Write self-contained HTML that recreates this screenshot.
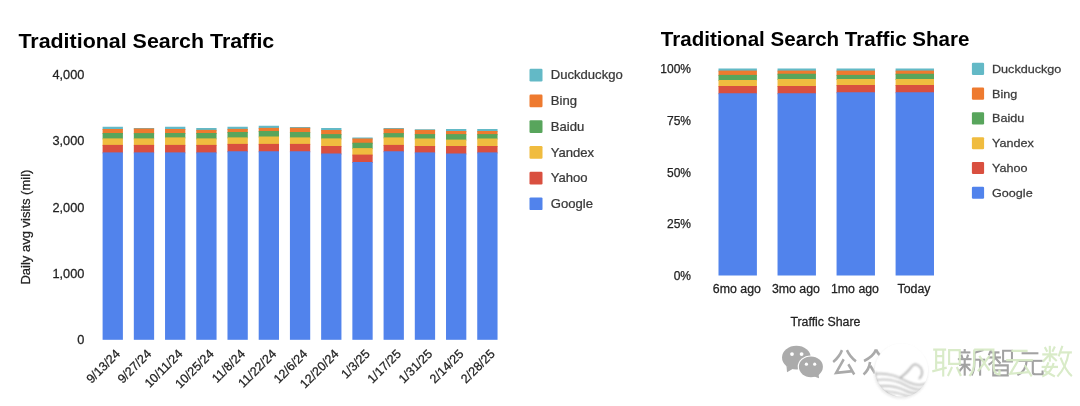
<!DOCTYPE html>
<html><head><meta charset="utf-8"><title>Traditional Search Traffic</title>
<style>
html,body{margin:0;padding:0;background:#fff;}
body{width:1080px;height:406px;overflow:hidden;font-family:"Liberation Sans",sans-serif;}
svg{display:block;will-change:transform;}
text{font-family:"Liberation Sans",sans-serif;}
.ax{fill:#222;stroke:#222;stroke-width:0.25px;}
.lg{fill:#3a3a3a;stroke:#3a3a3a;stroke-width:0.25px;}
.title{font-weight:bold;fill:#000;}
</style></head><body>
<svg width="1080" height="406" viewBox="0 0 1080 406">
<rect width="1080" height="406" fill="#fff"/>
<rect x="102.60" y="126.75" width="20.3" height="3.25" fill="#63b9c6"/>
<rect x="102.60" y="129.00" width="20.3" height="5.00" fill="#ee7a2f"/>
<rect x="102.60" y="133.00" width="20.3" height="6.40" fill="#58a55c"/>
<rect x="102.60" y="138.40" width="20.3" height="7.50" fill="#f0bc3f"/>
<rect x="102.60" y="144.90" width="20.3" height="8.50" fill="#d94f3f"/>
<rect x="102.60" y="152.40" width="20.3" height="187.40" fill="#5183ec"/>
<rect x="133.82" y="128.00" width="20.3" height="1.50" fill="#63b9c6"/>
<rect x="133.82" y="128.50" width="20.3" height="5.60" fill="#ee7a2f"/>
<rect x="133.82" y="133.10" width="20.3" height="6.30" fill="#58a55c"/>
<rect x="133.82" y="138.40" width="20.3" height="7.50" fill="#f0bc3f"/>
<rect x="133.82" y="144.90" width="20.3" height="8.50" fill="#d94f3f"/>
<rect x="133.82" y="152.40" width="20.3" height="187.40" fill="#5183ec"/>
<rect x="165.04" y="126.75" width="20.3" height="3.25" fill="#63b9c6"/>
<rect x="165.04" y="129.00" width="20.3" height="5.00" fill="#ee7a2f"/>
<rect x="165.04" y="133.00" width="20.3" height="5.40" fill="#58a55c"/>
<rect x="165.04" y="137.40" width="20.3" height="8.50" fill="#f0bc3f"/>
<rect x="165.04" y="144.90" width="20.3" height="8.50" fill="#d94f3f"/>
<rect x="165.04" y="152.40" width="20.3" height="187.40" fill="#5183ec"/>
<rect x="196.26" y="128.00" width="20.3" height="2.90" fill="#63b9c6"/>
<rect x="196.26" y="129.90" width="20.3" height="4.10" fill="#ee7a2f"/>
<rect x="196.26" y="133.00" width="20.3" height="6.40" fill="#58a55c"/>
<rect x="196.26" y="138.40" width="20.3" height="7.50" fill="#f0bc3f"/>
<rect x="196.26" y="144.90" width="20.3" height="8.50" fill="#d94f3f"/>
<rect x="196.26" y="152.40" width="20.3" height="187.40" fill="#5183ec"/>
<rect x="227.48" y="126.75" width="20.3" height="3.15" fill="#63b9c6"/>
<rect x="227.48" y="128.90" width="20.3" height="4.10" fill="#ee7a2f"/>
<rect x="227.48" y="132.00" width="20.3" height="6.40" fill="#58a55c"/>
<rect x="227.48" y="137.40" width="20.3" height="7.50" fill="#f0bc3f"/>
<rect x="227.48" y="143.90" width="20.3" height="8.35" fill="#d94f3f"/>
<rect x="227.48" y="151.25" width="20.3" height="188.55" fill="#5183ec"/>
<rect x="258.70" y="125.75" width="20.3" height="3.15" fill="#63b9c6"/>
<rect x="258.70" y="127.90" width="20.3" height="4.10" fill="#ee7a2f"/>
<rect x="258.70" y="131.00" width="20.3" height="6.50" fill="#58a55c"/>
<rect x="258.70" y="136.50" width="20.3" height="8.40" fill="#f0bc3f"/>
<rect x="258.70" y="143.90" width="20.3" height="8.35" fill="#d94f3f"/>
<rect x="258.70" y="151.25" width="20.3" height="188.55" fill="#5183ec"/>
<rect x="289.92" y="127.00" width="20.3" height="1.75" fill="#63b9c6"/>
<rect x="289.92" y="127.75" width="20.3" height="5.25" fill="#ee7a2f"/>
<rect x="289.92" y="132.00" width="20.3" height="6.40" fill="#58a55c"/>
<rect x="289.92" y="137.40" width="20.3" height="7.50" fill="#f0bc3f"/>
<rect x="289.92" y="143.90" width="20.3" height="8.35" fill="#d94f3f"/>
<rect x="289.92" y="151.25" width="20.3" height="188.55" fill="#5183ec"/>
<rect x="321.14" y="128.00" width="20.3" height="3.00" fill="#63b9c6"/>
<rect x="321.14" y="130.00" width="20.3" height="5.10" fill="#ee7a2f"/>
<rect x="321.14" y="134.10" width="20.3" height="5.30" fill="#58a55c"/>
<rect x="321.14" y="138.40" width="20.3" height="8.60" fill="#f0bc3f"/>
<rect x="321.14" y="146.00" width="20.3" height="8.50" fill="#d94f3f"/>
<rect x="321.14" y="153.50" width="20.3" height="186.30" fill="#5183ec"/>
<rect x="352.36" y="137.50" width="20.3" height="2.00" fill="#63b9c6"/>
<rect x="352.36" y="138.50" width="20.3" height="5.25" fill="#ee7a2f"/>
<rect x="352.36" y="142.75" width="20.3" height="6.35" fill="#58a55c"/>
<rect x="352.36" y="148.10" width="20.3" height="7.50" fill="#f0bc3f"/>
<rect x="352.36" y="154.60" width="20.3" height="8.40" fill="#d94f3f"/>
<rect x="352.36" y="162.00" width="20.3" height="177.80" fill="#5183ec"/>
<rect x="383.58" y="128.00" width="20.3" height="1.75" fill="#63b9c6"/>
<rect x="383.58" y="128.75" width="20.3" height="5.35" fill="#ee7a2f"/>
<rect x="383.58" y="133.10" width="20.3" height="5.30" fill="#58a55c"/>
<rect x="383.58" y="137.40" width="20.3" height="8.50" fill="#f0bc3f"/>
<rect x="383.58" y="144.90" width="20.3" height="7.35" fill="#d94f3f"/>
<rect x="383.58" y="151.25" width="20.3" height="188.55" fill="#5183ec"/>
<rect x="414.80" y="129.25" width="20.3" height="1.65" fill="#63b9c6"/>
<rect x="414.80" y="129.90" width="20.3" height="5.20" fill="#ee7a2f"/>
<rect x="414.80" y="134.10" width="20.3" height="5.40" fill="#58a55c"/>
<rect x="414.80" y="138.50" width="20.3" height="8.50" fill="#f0bc3f"/>
<rect x="414.80" y="146.00" width="20.3" height="7.40" fill="#d94f3f"/>
<rect x="414.80" y="152.40" width="20.3" height="187.40" fill="#5183ec"/>
<rect x="446.02" y="129.00" width="20.3" height="3.00" fill="#63b9c6"/>
<rect x="446.02" y="131.00" width="20.3" height="4.10" fill="#ee7a2f"/>
<rect x="446.02" y="134.10" width="20.3" height="6.50" fill="#58a55c"/>
<rect x="446.02" y="139.60" width="20.3" height="7.40" fill="#f0bc3f"/>
<rect x="446.02" y="146.00" width="20.3" height="8.50" fill="#d94f3f"/>
<rect x="446.02" y="153.50" width="20.3" height="186.30" fill="#5183ec"/>
<rect x="477.24" y="129.00" width="20.3" height="3.00" fill="#63b9c6"/>
<rect x="477.24" y="131.00" width="20.3" height="4.10" fill="#ee7a2f"/>
<rect x="477.24" y="134.10" width="20.3" height="5.40" fill="#58a55c"/>
<rect x="477.24" y="138.50" width="20.3" height="8.50" fill="#f0bc3f"/>
<rect x="477.24" y="146.00" width="20.3" height="7.40" fill="#d94f3f"/>
<rect x="477.24" y="152.40" width="20.3" height="187.40" fill="#5183ec"/>
<rect x="718.50" y="68.50" width="38.4" height="3.10" fill="#63b9c6"/>
<rect x="718.50" y="70.60" width="38.4" height="5.30" fill="#ee7a2f"/>
<rect x="718.50" y="74.90" width="38.4" height="6.10" fill="#58a55c"/>
<rect x="718.50" y="80.00" width="38.4" height="7.00" fill="#f0bc3f"/>
<rect x="718.50" y="86.00" width="38.4" height="8.25" fill="#d94f3f"/>
<rect x="718.50" y="93.25" width="38.4" height="182.25" fill="#5183ec"/>
<rect x="777.53" y="68.50" width="38.4" height="3.10" fill="#63b9c6"/>
<rect x="777.53" y="70.60" width="38.4" height="4.15" fill="#ee7a2f"/>
<rect x="777.53" y="73.75" width="38.4" height="6.25" fill="#58a55c"/>
<rect x="777.53" y="79.00" width="38.4" height="8.00" fill="#f0bc3f"/>
<rect x="777.53" y="86.00" width="38.4" height="8.25" fill="#d94f3f"/>
<rect x="777.53" y="93.25" width="38.4" height="182.25" fill="#5183ec"/>
<rect x="836.56" y="68.50" width="38.4" height="3.10" fill="#63b9c6"/>
<rect x="836.56" y="70.60" width="38.4" height="5.30" fill="#ee7a2f"/>
<rect x="836.56" y="74.90" width="38.4" height="5.10" fill="#58a55c"/>
<rect x="836.56" y="79.00" width="38.4" height="7.00" fill="#f0bc3f"/>
<rect x="836.56" y="85.00" width="38.4" height="8.25" fill="#d94f3f"/>
<rect x="836.56" y="92.25" width="38.4" height="183.25" fill="#5183ec"/>
<rect x="895.59" y="68.50" width="38.4" height="3.10" fill="#63b9c6"/>
<rect x="895.59" y="70.60" width="38.4" height="4.15" fill="#ee7a2f"/>
<rect x="895.59" y="73.75" width="38.4" height="6.25" fill="#58a55c"/>
<rect x="895.59" y="79.00" width="38.4" height="7.00" fill="#f0bc3f"/>
<rect x="895.59" y="85.00" width="38.4" height="8.25" fill="#d94f3f"/>
<rect x="895.59" y="92.25" width="38.4" height="183.25" fill="#5183ec"/>
<text transform="translate(84.40,79.10) scale(1.03,1)" font-size="12.4" text-anchor="end" class="ax">4,000</text>
<text transform="translate(84.40,145.35) scale(1.03,1)" font-size="12.4" text-anchor="end" class="ax">3,000</text>
<text transform="translate(84.40,211.60) scale(1.03,1)" font-size="12.4" text-anchor="end" class="ax">2,000</text>
<text transform="translate(84.40,277.80) scale(1.03,1)" font-size="12.4" text-anchor="end" class="ax">1,000</text>
<text transform="translate(84.40,343.90) scale(1.03,1)" font-size="12.4" text-anchor="end" class="ax">0</text>
<text transform="translate(120.95,354.60) rotate(-45)" font-size="12.5" text-anchor="end" class="ax">9/13/24</text>
<text transform="translate(152.17,354.60) rotate(-45)" font-size="12.5" text-anchor="end" class="ax">9/27/24</text>
<text transform="translate(183.39,354.60) rotate(-45)" font-size="12.5" text-anchor="end" class="ax">10/11/24</text>
<text transform="translate(214.61,354.60) rotate(-45)" font-size="12.5" text-anchor="end" class="ax">10/25/24</text>
<text transform="translate(245.83,354.60) rotate(-45)" font-size="12.5" text-anchor="end" class="ax">11/8/24</text>
<text transform="translate(277.05,354.60) rotate(-45)" font-size="12.5" text-anchor="end" class="ax">11/22/24</text>
<text transform="translate(308.27,354.60) rotate(-45)" font-size="12.5" text-anchor="end" class="ax">12/6/24</text>
<text transform="translate(339.49,354.60) rotate(-45)" font-size="12.5" text-anchor="end" class="ax">12/20/24</text>
<text transform="translate(370.71,354.60) rotate(-45)" font-size="12.5" text-anchor="end" class="ax">1/3/25</text>
<text transform="translate(401.93,354.60) rotate(-45)" font-size="12.5" text-anchor="end" class="ax">1/17/25</text>
<text transform="translate(433.15,354.60) rotate(-45)" font-size="12.5" text-anchor="end" class="ax">1/31/25</text>
<text transform="translate(464.37,354.60) rotate(-45)" font-size="12.5" text-anchor="end" class="ax">2/14/25</text>
<text transform="translate(495.59,354.60) rotate(-45)" font-size="12.5" text-anchor="end" class="ax">2/28/25</text>
<text transform="translate(30.10,227.10) rotate(-90) scale(1.05,1)" font-size="12.4" text-anchor="middle" class="ax">Daily avg visits (mil)</text>
<text transform="translate(18.40,48.40) scale(1.02,1)" font-size="21" class="title">Traditional Search Traffic</text>
<text transform="translate(660.80,45.60) scale(1.004,1)" font-size="20.5" class="title">Traditional Search Traffic Share</text>
<rect x="529.5" y="68.80" width="13" height="12.7" rx="1.2" fill="#63b9c6"/>
<text transform="translate(550.80,79.40) scale(1.055,1)" font-size="12.4" class="lg">Duckduckgo</text>
<rect x="529.5" y="94.52" width="13" height="12.7" rx="1.2" fill="#ee7a2f"/>
<text transform="translate(550.80,105.12) scale(1.055,1)" font-size="12.4" class="lg">Bing</text>
<rect x="529.5" y="120.24" width="13" height="12.7" rx="1.2" fill="#58a55c"/>
<text transform="translate(550.80,130.84) scale(1.055,1)" font-size="12.4" class="lg">Baidu</text>
<rect x="529.5" y="145.96" width="13" height="12.7" rx="1.2" fill="#f0bc3f"/>
<text transform="translate(550.80,156.56) scale(1.055,1)" font-size="12.4" class="lg">Yandex</text>
<rect x="529.5" y="171.68" width="13" height="12.7" rx="1.2" fill="#d94f3f"/>
<text transform="translate(550.80,182.28) scale(1.055,1)" font-size="12.4" class="lg">Yahoo</text>
<rect x="529.5" y="197.40" width="13" height="12.7" rx="1.2" fill="#5183ec"/>
<text transform="translate(550.80,208.00) scale(1.055,1)" font-size="12.4" class="lg">Google</text>
<rect x="971.9" y="62.80" width="12.2" height="12.1" rx="1.2" fill="#63b9c6"/>
<text transform="translate(992.00,72.85) scale(1.07,1)" font-size="11.8" class="lg">Duckduckgo</text>
<rect x="971.9" y="87.58" width="12.2" height="12.1" rx="1.2" fill="#ee7a2f"/>
<text transform="translate(992.00,97.63) scale(1.07,1)" font-size="11.8" class="lg">Bing</text>
<rect x="971.9" y="112.36" width="12.2" height="12.1" rx="1.2" fill="#58a55c"/>
<text transform="translate(992.00,122.41) scale(1.07,1)" font-size="11.8" class="lg">Baidu</text>
<rect x="971.9" y="137.14" width="12.2" height="12.1" rx="1.2" fill="#f0bc3f"/>
<text transform="translate(992.00,147.19) scale(1.07,1)" font-size="11.8" class="lg">Yandex</text>
<rect x="971.9" y="161.92" width="12.2" height="12.1" rx="1.2" fill="#d94f3f"/>
<text transform="translate(992.00,171.97) scale(1.07,1)" font-size="11.8" class="lg">Yahoo</text>
<rect x="971.9" y="186.70" width="12.2" height="12.1" rx="1.2" fill="#5183ec"/>
<text transform="translate(992.00,196.75) scale(1.07,1)" font-size="11.8" class="lg">Google</text>
<text transform="translate(691.00,73.20)" font-size="12" text-anchor="end" class="ax">100%</text>
<text transform="translate(691.00,124.90)" font-size="12" text-anchor="end" class="ax">75%</text>
<text transform="translate(691.00,176.60)" font-size="12" text-anchor="end" class="ax">50%</text>
<text transform="translate(691.00,228.30)" font-size="12" text-anchor="end" class="ax">25%</text>
<text transform="translate(691.00,280.00)" font-size="12" text-anchor="end" class="ax">0%</text>
<text transform="translate(736.90,293.00) scale(1.03,1)" font-size="12" text-anchor="middle" class="ax">6mo ago</text>
<text transform="translate(795.93,293.00) scale(1.03,1)" font-size="12" text-anchor="middle" class="ax">3mo ago</text>
<text transform="translate(854.96,293.00) scale(1.03,1)" font-size="12" text-anchor="middle" class="ax">1mo ago</text>
<text transform="translate(913.99,293.00) scale(1.03,1)" font-size="12" text-anchor="middle" class="ax">Today</text>
<text transform="translate(825.40,326.30) scale(1.03,1)" font-size="12" text-anchor="middle" class="ax">Traffic Share</text>
<defs><filter id="b1" x="-20%" y="-20%" width="140%" height="140%"><feGaussianBlur stdDeviation="0.45"/></filter><filter id="b2" x="-20%" y="-20%" width="140%" height="140%"><feGaussianBlur stdDeviation="0.9"/></filter><clipPath id="cc"><circle cx="901.5" cy="370.5" r="26.5"/></clipPath></defs>
<g filter="url(#b1)">
<ellipse cx="796.4" cy="357.6" rx="14.4" ry="11.8" fill="#ababab"/>
<path d="M786.5 366 L787 372.3 L793.5 368.5 Z" fill="#ababab"/>
<ellipse cx="810.9" cy="366.8" rx="13.2" ry="11.4" fill="#fff"/>
<ellipse cx="810.9" cy="366.8" rx="12.0" ry="10.4" fill="#ababab"/>
<path d="M813 376 L819 378.3 L818.5 373 Z" fill="#ababab"/>
<circle cx="792" cy="354.1" r="1.9" fill="#fff"/>
<circle cx="801.6" cy="354.1" r="1.9" fill="#fff"/>
<circle cx="806.4" cy="364.2" r="1.6" fill="#fff"/>
<circle cx="814.7" cy="364.2" r="1.6" fill="#fff"/>
<g transform="translate(832.2,348.5) scale(0.2450,0.2700)" fill="none" stroke="#aaaaaa" stroke-width="10.10" stroke-linecap="butt" stroke-linejoin="miter" opacity="1"><path d="M40 6 Q30 30 4 50"/><path d="M60 6 Q72 30 97 48"/><path d="M47 40 L16 90 L84 84"/><path d="M66 58 L90 96"/></g>
<g transform="translate(863.0,348.5) scale(0.2600,0.2700)" fill="none" stroke="#aaaaaa" stroke-width="9.81" stroke-linecap="butt" stroke-linejoin="miter" opacity="1"><path d="M50 4 Q40 30 4 46"/><path d="M50 4 Q62 30 97 46"/><path d="M27 50 Q24 78 2 96"/><path d="M28 64 L46 92"/><path d="M72 50 Q68 78 50 96"/><path d="M73 64 L97 94"/></g>
<g transform="translate(957.3,348.5) scale(0.2850,0.2800)" fill="none" stroke="#a2a2a2" stroke-width="7.43" stroke-linecap="butt" stroke-linejoin="miter" opacity="1"><path d="M26 2 L26 12"/><path d="M6 14 L46 14"/><path d="M14 22 L18 35"/><path d="M38 22 L34 35"/><path d="M2 38 L50 38"/><path d="M6 58 L46 58"/><path d="M26 38 L26 97"/><path d="M24 60 L5 84"/><path d="M28 60 L47 80"/><path d="M92 5 L60 15"/><path d="M60 15 L60 50 Q60 80 50 96"/><path d="M60 40 L98 40"/><path d="M80 40 L80 97"/></g>
<g transform="translate(987.5,348.5) scale(0.2600,0.2800)" fill="none" stroke="#a2a2a2" stroke-width="7.78" stroke-linecap="butt" stroke-linejoin="miter" opacity="1"><path d="M14 4 L5 24"/><path d="M12 14 L46 14"/><path d="M2 32 L52 32"/><path d="M28 14 L28 32 Q24 48 4 58"/><path d="M30 34 L50 54"/><path d="M60 8 L94 8 L94 46 L60 46 Z"/><path d="M22 60 L78 60 L78 96 L22 96 Z"/><path d="M22 78 L78 78"/></g>
<g transform="translate(1016.0,349.5) scale(0.2800,0.2700)" fill="none" stroke="#a2a2a2" stroke-width="7.64" stroke-linecap="butt" stroke-linejoin="miter" opacity="1"><path d="M20 14 L80 14"/><path d="M5 42 L95 42"/><path d="M38 42 Q36 80 5 95"/><path d="M60 42 L60 84 Q60 92 70 92 L95 92 L95 78"/></g>
<g transform="translate(932.0,346.5) scale(0.2950,0.3100)" fill="none" stroke="#d7eac6" stroke-width="7.27" stroke-linecap="butt" stroke-linejoin="miter" opacity="0.95"><path d="M4 10 L48 10"/><path d="M14 10 L14 74"/><path d="M38 10 L38 97"/><path d="M14 31 L38 31"/><path d="M14 52 L38 52"/><path d="M1 80 L50 68"/><path d="M58 12 L94 12 L94 56 L58 56 Z"/><path d="M68 66 L54 95"/><path d="M84 66 L98 95"/></g>
<g transform="translate(968.4,346.5) scale(0.3200,0.3100)" fill="none" stroke="#d7eac6" stroke-width="6.98" stroke-linecap="butt" stroke-linejoin="miter" opacity="0.95"><path d="M18 10 L18 50 Q18 80 3 95"/><path d="M18 10 L78 10 L79 66 Q80 90 97 90 L97 74"/><path d="M34 30 L66 78"/><path d="M66 30 L30 80"/></g>
<g transform="translate(1005.0,346.5) scale(0.2900,0.3100)" fill="none" stroke="#d7eac6" stroke-width="7.33" stroke-linecap="butt" stroke-linejoin="miter" opacity="0.95"><path d="M22 14 L78 14"/><path d="M4 44 L96 44"/><path d="M46 44 L18 88 L82 83"/><path d="M68 60 L92 96"/></g>
<g transform="translate(1041.0,344.5) scale(0.3150,0.3300)" fill="none" stroke="#d7eac6" stroke-width="6.82" stroke-linecap="butt" stroke-linejoin="miter" opacity="0.95"><path d="M12 8 L20 22"/><path d="M44 6 L36 22"/><path d="M4 30 L52 30"/><path d="M28 4 L28 52"/><path d="M26 32 L6 52"/><path d="M30 32 L50 50"/><path d="M24 54 L12 80 L44 97"/><path d="M40 56 Q34 84 4 97"/><path d="M2 68 L54 68"/><path d="M68 4 L56 36"/><path d="M62 24 L98 24"/><path d="M88 24 Q80 70 52 97"/><path d="M62 40 Q78 80 98 96"/></g>
</g>
<circle cx="901" cy="371.8" r="27" fill="#e6e6e6" filter="url(#b2)" opacity="0.85"/>
<circle cx="901.5" cy="370" r="26.6" fill="#ffffff"/>
<g clip-path="url(#cc)" filter="url(#b2)" fill="none" stroke="#b5b5b5" stroke-width="1.6" opacity="0.95"><path d="M874 374 Q890 372 904 380 T927 383"/><path d="M876 380 Q892 378 905 385 T924 388"/><path d="M879 386 Q894 385 904 390 T920 392"/><path d="M884 391 Q896 392 904 395 T914 396"/><path d="M900 378 Q908 372 912 366 Q916 362 921 368 Q924 374 919 379" stroke="#a8a8a8"/><path d="M876 372 Q873 380 880 388 Q886 395 895 397" stroke="#bdbdbd" stroke-width="2.2"/></g>
</svg>
</body></html>
